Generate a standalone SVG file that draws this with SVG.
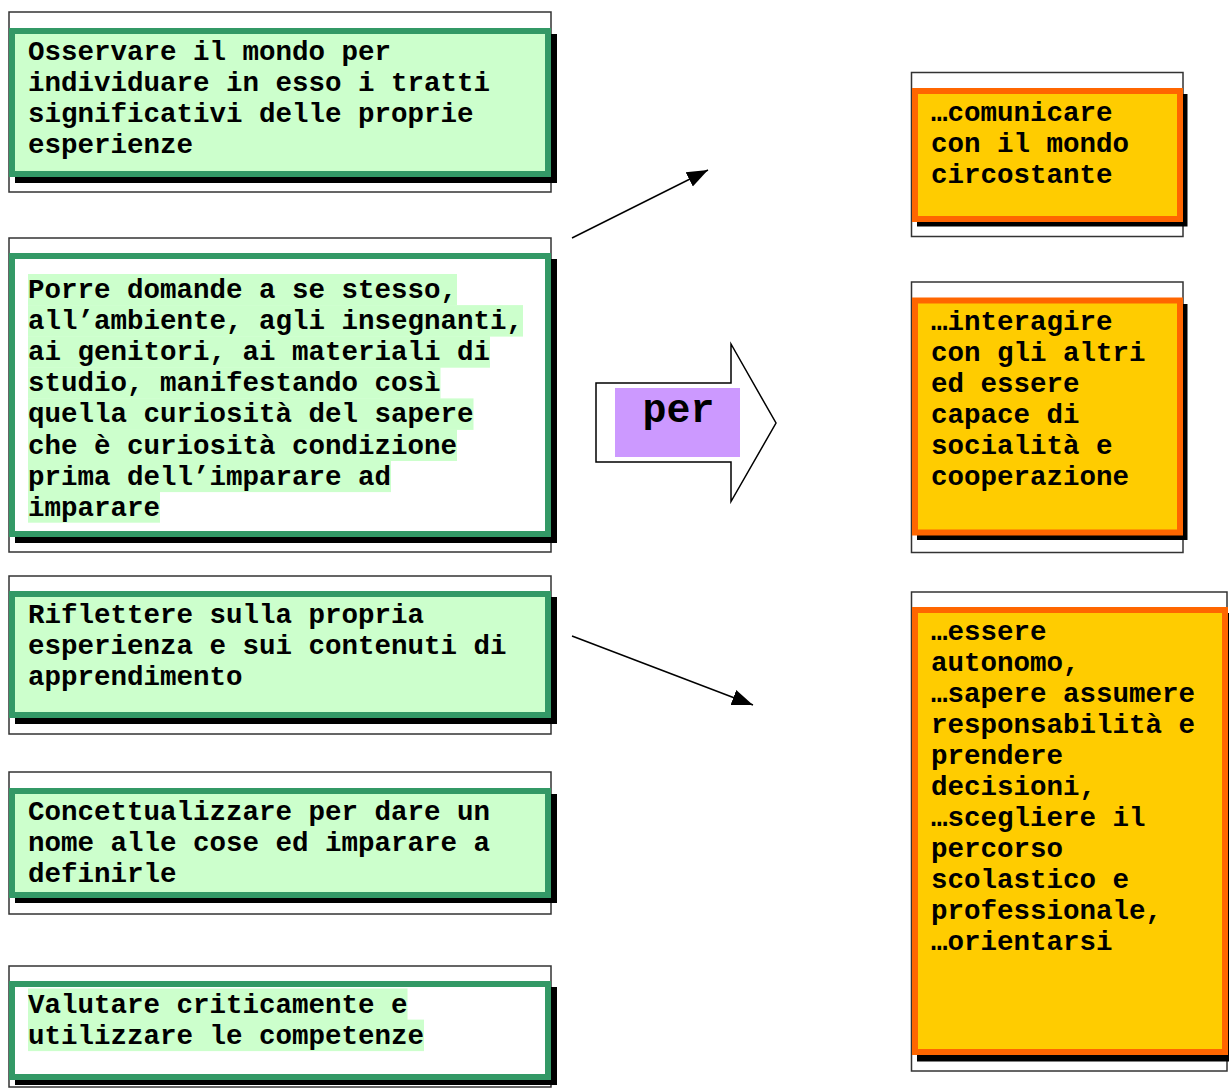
<svg xmlns="http://www.w3.org/2000/svg" width="1229" height="1089" viewBox="0 0 1229 1089">
<style>
.frame{fill:#fff;stroke:#333;stroke-width:1.5}
.shadow{fill:#000}
.gbox{fill:#CCFFCC;stroke:#339966;stroke-width:6}
.wbox{fill:#fff;stroke:#339966;stroke-width:6}
.obox{fill:#FFCC00;stroke:#FF6600;stroke-width:6}
.hl{fill:#CCFFCC}
.t{font-family:"Liberation Mono","Courier New",monospace;font-weight:bold;font-size:27.5px;fill:#000}
.per{font-family:"Liberation Mono","Courier New",monospace;font-weight:bold;font-size:40px;fill:#000}
.conn{stroke:#000;stroke-width:1.5;fill:none}
</style>
<defs>
<marker id="ah" markerUnits="userSpaceOnUse" markerWidth="22" markerHeight="18" refX="21" refY="9" orient="auto">
<path d="M0,1 L21,9 L0,17 z" fill="#000"/>
</marker>
</defs>

<g id="box1">
<rect class="frame" x="9" y="12" width="542" height="180"/>
<rect class="shadow" x="15" y="34" width="542" height="149"/>
<rect class="gbox" x="12" y="31" width="536" height="143"/>
<text class="t" x="28" y="60">Osservare il mondo per</text>
<text class="t" x="28" y="91">individuare in esso i tratti</text>
<text class="t" x="28" y="122">significativi delle proprie</text>
<text class="t" x="28" y="153">esperienze</text>
</g>

<g id="box2">
<rect class="frame" x="9" y="238" width="542" height="314"/>
<rect class="shadow" x="15" y="259" width="542" height="284"/>
<rect class="wbox" x="12" y="256" width="536" height="278"/>
<rect class="hl" x="28" y="274" width="429" height="31.5"/>
<rect class="hl" x="28" y="305.1" width="495" height="31.5"/>
<rect class="hl" x="28" y="336.2" width="462" height="31.5"/>
<rect class="hl" x="28" y="367.3" width="412.5" height="31.5"/>
<rect class="hl" x="28" y="398.4" width="445.5" height="31.5"/>
<rect class="hl" x="28" y="429.5" width="429" height="31.5"/>
<rect class="hl" x="28" y="460.6" width="363" height="31.5"/>
<rect class="hl" x="28" y="491.7" width="132" height="31"/>
<text class="t" x="28" y="298">Porre domande a se stesso,</text>
<text class="t" x="28" y="329.1">all’ambiente, agli insegnanti,</text>
<text class="t" x="28" y="360.2">ai genitori, ai materiali di</text>
<text class="t" x="28" y="391.3">studio, manifestando così</text>
<text class="t" x="28" y="422.4">quella curiosità del sapere</text>
<text class="t" x="28" y="453.5">che è curiosità condizione</text>
<text class="t" x="28" y="484.6">prima dell’imparare ad</text>
<text class="t" x="28" y="515.7">imparare</text>
</g>

<g id="box3">
<rect class="frame" x="9" y="576" width="542" height="158"/>
<rect class="shadow" x="15" y="597" width="542" height="127"/>
<rect class="gbox" x="12" y="594" width="536" height="121"/>
<text class="t" x="28" y="623">Riflettere sulla propria</text>
<text class="t" x="28" y="654">esperienza e sui contenuti di</text>
<text class="t" x="28" y="685">apprendimento</text>
</g>

<g id="box4">
<rect class="frame" x="9" y="772" width="542" height="142"/>
<rect class="shadow" x="15" y="794" width="542" height="109"/>
<rect class="gbox" x="12" y="791" width="536" height="104"/>
<text class="t" x="28" y="819.5">Concettualizzare per dare un</text>
<text class="t" x="28" y="850.5">nome alle cose ed imparare a</text>
<text class="t" x="28" y="881.5">definirle</text>
</g>

<g id="box5">
<rect class="frame" x="9" y="966" width="542" height="121"/>
<rect class="shadow" x="15" y="987" width="542" height="98"/>
<rect class="wbox" x="12" y="984" width="536" height="93"/>
<rect class="hl" x="28" y="988.5" width="379.5" height="31.5"/>
<rect class="hl" x="28" y="1019.6" width="396" height="31.5"/>
<text class="t" x="28" y="1012.5">Valutare criticamente e</text>
<text class="t" x="28" y="1043.6">utilizzare le competenze</text>
</g>

<g id="per">
<path d="M596,383 L731,383 L731,344 L776,423 L731,501.5 L731,462 L596,462 z" fill="#fff" stroke="#000" stroke-width="1.5"/>
<rect x="615" y="388" width="125" height="69" fill="#CC99FF"/>
<text class="per" x="678.5" y="421.5" text-anchor="middle">per</text>
</g>

<g id="boxA">
<rect class="frame" x="911.5" y="72.5" width="271.5" height="164"/>
<rect class="shadow" x="917" y="94" width="270.5" height="132.5"/>
<rect class="obox" x="915" y="91" width="265" height="128"/>
<text class="t" x="931" y="120.5">…comunicare</text>
<text class="t" x="931" y="151.5">con il mondo</text>
<text class="t" x="931" y="182.5">circostante</text>
</g>

<g id="boxB">
<rect class="frame" x="911.5" y="282" width="271.5" height="270.5"/>
<rect class="shadow" x="917" y="304" width="270.5" height="236"/>
<rect class="obox" x="915" y="300.5" width="265" height="232"/>
<text class="t" x="931" y="329.5">…interagire</text>
<text class="t" x="931" y="360.5">con gli altri</text>
<text class="t" x="931" y="391.5">ed essere</text>
<text class="t" x="931" y="422.5">capace di</text>
<text class="t" x="931" y="453.5">socialità e</text>
<text class="t" x="931" y="484.5">cooperazione</text>
</g>

<g id="boxC">
<rect class="frame" x="911.5" y="592" width="315.5" height="479"/>
<rect class="shadow" x="917" y="613" width="315" height="448.5"/>
<rect class="obox" x="915" y="610" width="310" height="442"/>
<text class="t" x="931" y="639.5">…essere</text>
<text class="t" x="931" y="670.5">autonomo,</text>
<text class="t" x="931" y="701.5">…sapere assumere</text>
<text class="t" x="931" y="732.5">responsabilità e</text>
<text class="t" x="931" y="763.5">prendere</text>
<text class="t" x="931" y="794.5">decisioni,</text>
<text class="t" x="931" y="825.5">…scegliere il</text>
<text class="t" x="931" y="856.5">percorso</text>
<text class="t" x="931" y="887.5">scolastico e</text>
<text class="t" x="931" y="918.5">professionale,</text>
<text class="t" x="931" y="949.5">…orientarsi</text>
</g>

<g id="connectors">
<line class="conn" x1="572" y1="238" x2="708" y2="170" marker-end="url(#ah)"/>
<line class="conn" x1="572" y1="636" x2="753" y2="705" marker-end="url(#ah)"/>
</g>
</svg>
